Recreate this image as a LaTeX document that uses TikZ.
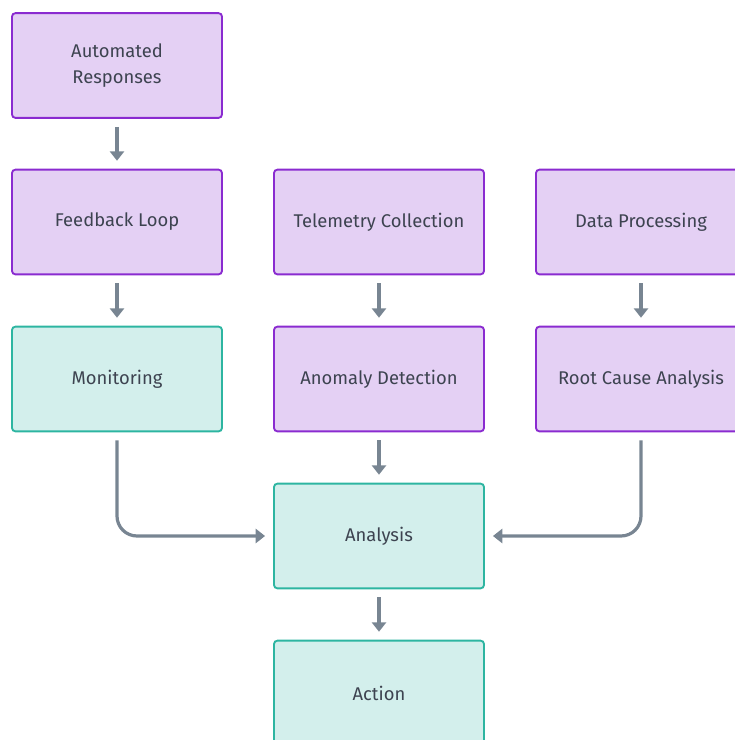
\documentclass[tikz,border=0pt]{standalone}
\usepackage{fontspec}
\setmainfont{Fira Sans}
\usetikzlibrary{arrows.meta}
\definecolor{purfill}{HTML}{E4D0F4}
\definecolor{purline}{HTML}{8A2BD0}
\definecolor{tealfill}{HTML}{D3EFEC}
\definecolor{tealline}{HTML}{2DB5A1}
\definecolor{arrowgray}{HTML}{788592}
\definecolor{textgray}{HTML}{3D4350}
\tikzset{
  box/.style={draw, line width=1.4pt, rounded corners=2.5pt, minimum width=157.5pt,
    minimum height=78.5pt, align=center, text=textgray, font=\fontsize{13.8}{19.5}\selectfont,
    execute at begin node={\vspace*{3.5pt}}},
  purbox/.style={box, fill=purfill, draw=purline},
  tealbox/.style={box, fill=tealfill, draw=tealline},
  flow/.style={draw=arrowgray, line width=2.4pt, rounded corners=15pt,
    -{Triangle[length=7pt,width=10.5pt]}, shorten <=6pt, shorten >=6pt}
}
\begin{document}
\begin{tikzpicture}[x=0.75pt,y=-0.75pt]
\useasboundingbox (0,0) rectangle (735,740);
\node[purbox] (auto) at (117,65.5) {Automated\\Responses};
\node[purbox] (feed) at (117,222) {Feedback Loop};
\node[purbox] (tele) at (379,222) {Telemetry Collection};
\node[purbox] (data) at (641,222) {Data Processing};
\node[tealbox] (mon) at (117,379) {Monitoring};
\node[purbox] (anom) at (379,379) {Anomaly Detection};
\node[purbox] (root) at (641,379) {Root Cause Analysis};
\node[tealbox] (ana) at (379,536) {Analysis};
\node[tealbox] (act) at (379,693) {Action};

\draw[flow] (auto) -- (feed);
\draw[flow] (feed) -- (mon);
\draw[flow] (tele) -- (anom);
\draw[flow] (data) -- (root);
\draw[flow] (anom) -- (ana);
\draw[flow] (ana) -- (act);
\draw[flow] (mon.south) |- (ana.west);
\draw[flow] (root.south) |- (ana.east);
\end{tikzpicture}
\end{document}
